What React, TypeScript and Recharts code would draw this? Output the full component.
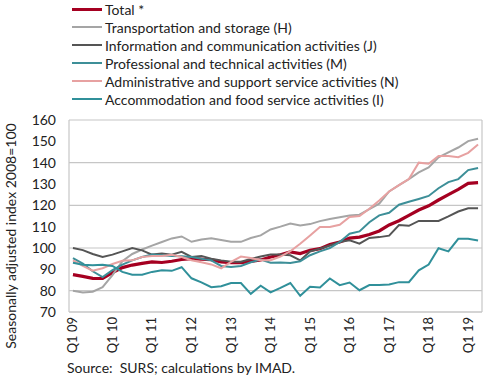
import React from "react";
import { LineChart, Line, XAxis, YAxis, CartesianGrid, ReferenceLine } from "recharts";

const years = ["09", "10", "11", "12", "13", "14", "15", "16", "17", "18", "19"];
const quarterLabels = years.flatMap((y) => ["Q1", "Q2", "Q3", "Q4"].map((q) => `${q} ${y}`)).slice(0, 42);
const xTicks = [0, 4, 8, 12, 16, 20, 24, 28, 32, 36, 40];
const yTicks = [70, 80, 90, 100, 110, 120, 130, 140, 150, 160];
const yTitle = "Seasonally adjusted index 2008=100";

const total = [
  87.5, 86.7, 85.8, 85.7, 88.5, 90.8, 92, 92.8, 93.5, 93.2,
  93.8, 94.6, 95, 94.8, 94.5, 93.5, 93.1, 93.1, 93.7, 94.4,
  95.8, 96.8, 98.2, 97.4, 98.9, 99.7, 101.6, 102.8, 104.6, 105.1,
  106.3, 108, 110.8, 112.8, 115.3, 117.8, 119.8, 122.5, 125, 127.5,
  130.3, 130.6,
];
const transport = [
  80, 79.1, 79.5, 81.6, 87.3, 93.8, 97.2, 99.3, 101.1, 102.8,
  104.5, 105.4, 102.9, 104, 104.6, 103.8, 102.9, 102.9, 104.7, 105.9,
  108.7, 110, 111.5, 110.6, 111.2, 112.6, 113.6, 114.4, 115.2, 115.6,
  118.2, 120.8, 126.5, 129.5, 132.3, 135.4, 137.8, 142.5, 144.8, 147.1,
  150.1, 151.2,
];
const information = [
  100, 99, 97.2, 95.8, 96.9, 98.4, 100, 98.9, 96.9, 97.4,
  96.8, 98.2, 95.8, 96.3, 95, 94.2, 93.6, 93.6, 94.8, 96,
  96.9, 97, 96.6, 94.2, 98.4, 99.7, 101.2, 102.8, 103.6, 102,
  104.7, 105.1, 105.8, 110.8, 110.4, 112.7, 112.7, 112.7, 114.8, 117.1,
  118.6, 118.6,
];
const professional = [
  95.3, 92.7, 89.1, 86.4, 89.6, 92.2, 94.2, 95.8, 96.9, 96.6,
  96.3, 96.1, 95.8, 95, 94.2, 91.6, 91.1, 91.6, 93.3, 94.6,
  93.1, 93.2, 93, 93.8, 96.6, 98.4, 100, 102.8, 106.7, 107.8,
  112.1, 115.3, 116.5, 120.3, 121.7, 123, 124.4, 128, 130.9, 132.3,
  136.5, 137.5,
];
const administrative = [
  94.2, 91.6, 89.4, 90.5, 92.5, 94, 94.2, 95.8, 96.3, 96.3,
  96.8, 95.8, 94.3, 93.3, 92.3, 90.5, 93.5, 96, 95.3, 94.3,
  94.3, 96, 98.5, 102, 105.9, 109.8, 109.8, 110.9, 114.5, 115,
  118.4, 122.3, 126.5, 129.5, 132.3, 140, 139.5, 143.1, 143.1, 142.6,
  144.6, 148.5,
];
const accommodation = [
  93.1, 92.2, 91.9, 92.2, 91.6, 88.8, 87.5, 87.5, 88.8, 89.6,
  89.3, 91, 85.8, 83.9, 81.6, 82.1, 83.6, 83.6, 78.5, 82.3,
  79.2, 81.3, 83.6, 77.6, 81.8, 81.5, 85.7, 82.6, 83.8, 80.2,
  82.6, 82.6, 82.9, 84, 84, 89.5, 92.2, 99.9, 98.4, 104.3,
  104.3, 103.5,
];

const series = [
  { key: "total", name: "Total *", color: "#a50021", width: 3.2, values: total },
  { key: "transport", name: "Transportation and storage (H)", color: "#a5a5a5", width: 2, values: transport },
  { key: "information", name: "Information and communication activities (J)", color: "#555555", width: 2, values: information },
  { key: "professional", name: "Professional and technical activities (M)", color: "#3d8f98", width: 2, values: professional },
  { key: "administrative", name: "Administrative and support service activities (N)", color: "#e7a1a1", width: 2, values: administrative },
  { key: "accommodation", name: "Accommodation and food service activities (I)", color: "#30909a", width: 2, values: accommodation },
];

const data = quarterLabels.map((q, i) => {
  const row: Record<string, number | string> = { i, q };
  series.forEach((s) => {
    row[s.key] = s.values[i];
  });
  return row;
});

const FONT = "Lato, 'Open Sans', sans-serif";
const GRID = "#c6c6c6";

const XTick = ({ x, y, payload }: any) => {
  const label = quarterLabels[payload.value];
  const bx = x + 4.5;
  return (
    <text
      x={bx}
      y={y}
      transform={`rotate(-90 ${bx} ${y})`}
      textAnchor="end"
      fontSize={13}
      fontFamily={FONT}
      fill="#222"
    >
      {label}
    </text>
  );
};

// y title sits left of the tick labels, a bit below the plot's middle
const YTitle = ({ viewBox }: any) => {
  const tx = viewBox.x + 15.5;
  const ty = viewBox.y + viewBox.height / 2 + 20;
  return (
    <text
      x={tx}
      y={ty}
      transform={`rotate(-90 ${tx} ${ty})`}
      textAnchor="middle"
      fontSize={14}
      fontFamily={FONT}
      fill="#222"
    >
      {yTitle}
    </text>
  );
};

export default function App() {
  return (
    <div style={{ position: "absolute", left: 0, top: 0, width: 490, height: 381, background: "#fff", fontFamily: FONT }}>
      <div style={{ position: "absolute", left: 72, top: 0, zIndex: 2 }}>
        {series.map((s) => (
          <div key={s.key} style={{ display: "flex", alignItems: "center", height: 18 }}>
            <div style={{ width: 30, height: s.key === "total" ? 3 : 2, background: s.color, marginRight: 3 }} />
            <span style={{ fontSize: 14, color: "#222", whiteSpace: "nowrap" }}>{s.name}</span>
          </div>
        ))}
      </div>
      <LineChart
        width={490}
        height={381}
        data={data}
        margin={{ top: 120, right: 8, bottom: 24, left: 0 }}
      >
        <CartesianGrid horizontal vertical={false} stroke={GRID} strokeWidth={1.2} />
        <XAxis
          dataKey="i"
          type="number"
          domain={[-0.4, 41.4]}
          ticks={xTicks}
          interval={0}
          height={45}
          tickLine={false}
          tickSize={0}
          tickMargin={5}
          axisLine={{ stroke: GRID, strokeWidth: 1.2 }}
          tick={<XTick />}
        />
        <YAxis
          domain={[70, 160]}
          ticks={yTicks}
          width={69}
          tickLine={false}
          tickSize={0}
          tickMargin={13}
          axisLine={{ stroke: GRID, strokeWidth: 1.2 }}
          tick={{ fontSize: 14, fill: "#222", fontFamily: FONT }}
          label={<YTitle />}
        />
        <ReferenceLine x={41.4} stroke={GRID} strokeWidth={1.2} />
        {series.map((s) => (
          <Line
            key={s.key}
            type="linear"
            dataKey={s.key}
            name={s.name}
            stroke={s.color}
            strokeWidth={s.width}
            dot={false}
            isAnimationActive={false}
          />
        ))}
      </LineChart>
      <div style={{ position: "absolute", left: 67, top: 359, fontSize: 14, color: "#222", whiteSpace: "pre" }}>
        Source:  SURS; calculations by IMAD.
      </div>
    </div>
  );
}
